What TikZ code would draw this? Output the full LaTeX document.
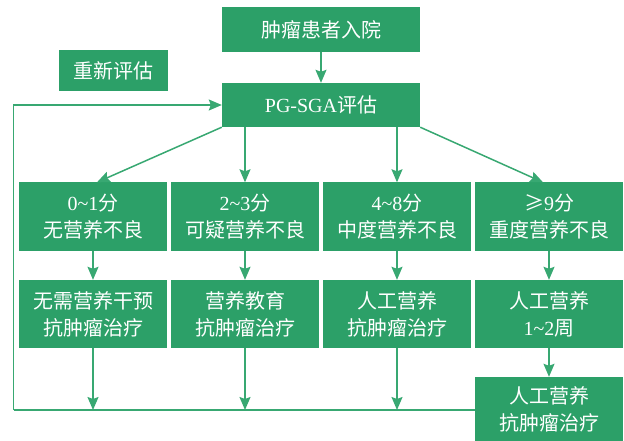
\documentclass[tikz,border=0pt]{standalone}
\usepackage{fontspec}
\setmainfont{Liberation Serif}
\newfontfamily\cjk{Noto Sans CJK SC}
\newfontfamily\lat{Liberation Serif}
\usetikzlibrary{arrows.meta}

\definecolor{boxgreen}{RGB}{44,160,104}
\definecolor{linegreen}{RGB}{56,168,114}
\newcommand\tld{\char"7E\relax}

\tikzset{
  box/.style={fill=boxgreen, text=white, inner sep=0pt, align=center,
    font=\cjk\fontsize{20}{27}\selectfont},
  cell/.style={box, minimum width=148, minimum height=68},
  arr/.style={draw=linegreen, line width=1.5pt,
    -{Stealth[length=13pt, width=11pt, inset=2pt]}},
  wire/.style={draw=linegreen, line width=1.5pt}
}

\begin{document}
\begin{tikzpicture}[x=1pt, y=-1pt]
  \useasboundingbox (0,0) rectangle (624,441);

  % Top of the chart
  \node[box, minimum width=198, minimum height=45] (admit) at (321,29.5) {肿瘤患者入院};
  \node[box, minimum width=109, minimum height=41] (reeval) at (113.5,70.5) {重新评估};
  \node[box, minimum width=198, minimum height=44] (pgsga) at (321,105) {{\lat PG-SGA}评估};
  \draw[arr] (admit) -- (pgsga);

  % Score classes
  \node[cell] (s1) at (93,216.5) {{\lat 0\tld1}分\\无营养不良};
  \node[cell] (s2) at (245,216.5) {{\lat 2\tld3}分\\可疑营养不良};
  \node[cell] (s3) at (397,216.5) {{\lat 4\tld8}分\\中度营养不良};
  \node[cell] (s4) at (549,216.5) {≥{\lat 9}分\\重度营养不良};

  % Actions
  \node[cell] (t1) at (93,314) {无需营养干预\\抗肿瘤治疗};
  \node[cell] (t2) at (245,314) {营养教育\\抗肿瘤治疗};
  \node[cell] (t3) at (397,314) {人工营养\\抗肿瘤治疗};
  \node[cell] (t4) at (549,314) {人工营养\\{\lat 1\tld2}周};
  \node[cell, minimum height=64] (t5) at (549,409) {人工营养\\抗肿瘤治疗};
  \foreach \i in {1,...,4} {
    \draw[arr] (s\i) -- (t\i);
  }
  \draw[arr] (t4) -- (t5);

  % Branches from PG-SGA
  \draw[arr] (pgsga.south west) -- ([xshift=4pt]s1.north);
  \draw[arr] (s2.north |- pgsga.south) -- (s2.north);
  \draw[arr] (s3.north |- pgsga.south) -- (s3.north);
  \draw[arr] (pgsga.south east) -- ([xshift=-6pt]s4.north);

  % Loop back
  \coordinate (corner) at (13.5,410);
  \draw[wire] (t5.west |- corner) -- (corner);
  \draw[arr] (corner) |- (pgsga.west);
  \foreach \i in {1,2,3} {
    \draw[arr] (t\i) -- (t\i.south |- corner);
  }
\end{tikzpicture}
\end{document}
